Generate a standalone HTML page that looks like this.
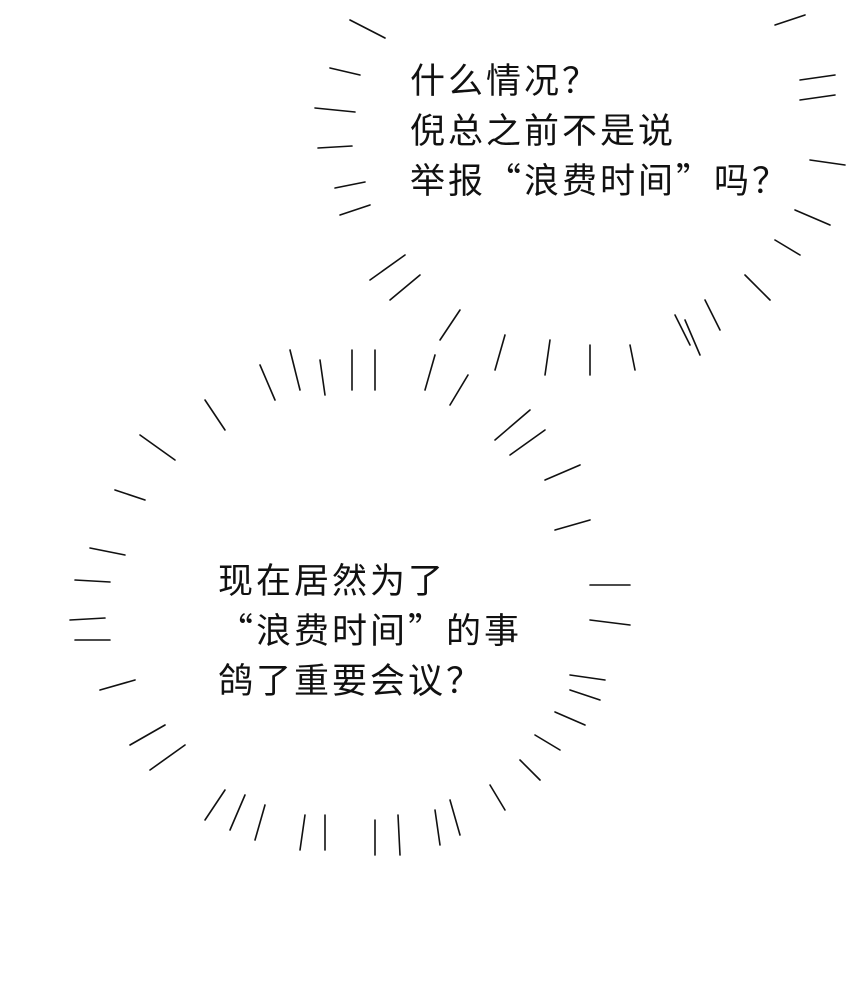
<!DOCTYPE html>
<html><head><meta charset="utf-8"><style>
html,body{margin:0;padding:0;background:#fff;}
.w{position:relative;width:850px;height:992px;overflow:hidden;background:#fff;}
svg{position:absolute;left:0;top:0;}
.t{position:absolute;font-family:"Noto Sans CJK SC","Liberation Sans",sans-serif;font-size:35px;letter-spacing:3px;line-height:50px;color:#111;white-space:nowrap;}
</style></head><body><div class="w">
<svg width="850" height="992" stroke="#111" stroke-width="1.6" stroke-linecap="round">
<line x1="350" y1="20" x2="385" y2="38"/><line x1="330" y1="68" x2="360" y2="75"/><line x1="315" y1="108" x2="355" y2="112"/><line x1="318" y1="148" x2="352" y2="146"/><line x1="335" y1="188" x2="365" y2="182"/><line x1="340" y1="215" x2="370" y2="205"/><line x1="370" y1="280" x2="405" y2="255"/><line x1="390" y1="300" x2="420" y2="275"/><line x1="440" y1="340" x2="460" y2="310"/><line x1="495" y1="370" x2="505" y2="335"/><line x1="545" y1="375" x2="550" y2="340"/><line x1="590" y1="375" x2="590" y2="345"/><line x1="635" y1="370" x2="630" y2="345"/><line x1="690" y1="345" x2="675" y2="315"/><line x1="700" y1="355" x2="685" y2="320"/><line x1="720" y1="330" x2="705" y2="300"/><line x1="770" y1="300" x2="745" y2="275"/><line x1="800" y1="255" x2="775" y2="240"/><line x1="830" y1="225" x2="795" y2="210"/><line x1="845" y1="165" x2="810" y2="160"/><line x1="835" y1="95" x2="800" y2="100"/><line x1="835" y1="75" x2="800" y2="80"/><line x1="805" y1="15" x2="775" y2="25"/>
<line x1="260" y1="365" x2="275" y2="400"/><line x1="290" y1="350" x2="300" y2="390"/><line x1="320" y1="360" x2="325" y2="395"/><line x1="352" y1="350" x2="352" y2="390"/><line x1="375" y1="350" x2="375" y2="390"/><line x1="435" y1="355" x2="425" y2="390"/><line x1="468" y1="375" x2="450" y2="405"/><line x1="530" y1="410" x2="495" y2="440"/><line x1="545" y1="430" x2="510" y2="455"/><line x1="580" y1="465" x2="545" y2="480"/><line x1="590" y1="520" x2="555" y2="530"/><line x1="630" y1="585" x2="590" y2="585"/><line x1="630" y1="625" x2="590" y2="620"/><line x1="605" y1="680" x2="570" y2="675"/><line x1="600" y1="700" x2="570" y2="690"/><line x1="585" y1="725" x2="555" y2="712"/><line x1="560" y1="750" x2="535" y2="735"/><line x1="540" y1="780" x2="520" y2="760"/><line x1="505" y1="810" x2="490" y2="785"/><line x1="460" y1="835" x2="450" y2="800"/><line x1="440" y1="845" x2="435" y2="810"/><line x1="400" y1="855" x2="398" y2="815"/><line x1="375" y1="855" x2="375" y2="820"/><line x1="325" y1="850" x2="325" y2="815"/><line x1="300" y1="850" x2="305" y2="815"/><line x1="255" y1="840" x2="265" y2="805"/><line x1="230" y1="830" x2="245" y2="795"/><line x1="205" y1="820" x2="225" y2="790"/><line x1="150" y1="770" x2="185" y2="745"/><line x1="130" y1="745" x2="165" y2="725"/><line x1="100" y1="690" x2="135" y2="680"/><line x1="75" y1="640" x2="110" y2="640"/><line x1="70" y1="620" x2="105" y2="618"/><line x1="75" y1="580" x2="110" y2="582"/><line x1="90" y1="548" x2="125" y2="555"/><line x1="115" y1="490" x2="145" y2="500"/><line x1="140" y1="435" x2="175" y2="460"/><line x1="205" y1="400" x2="225" y2="430"/>
</svg>
<div class="t" style="left:410px;top:54px;">什么情况？<br>倪总之前不是说<br>举报“浪费时间”吗？</div>
<div class="t" style="left:218px;top:554px;">现在居然为了<br>“浪费时间”的事<br>鸽了重要会议？</div>
</div></body></html>
